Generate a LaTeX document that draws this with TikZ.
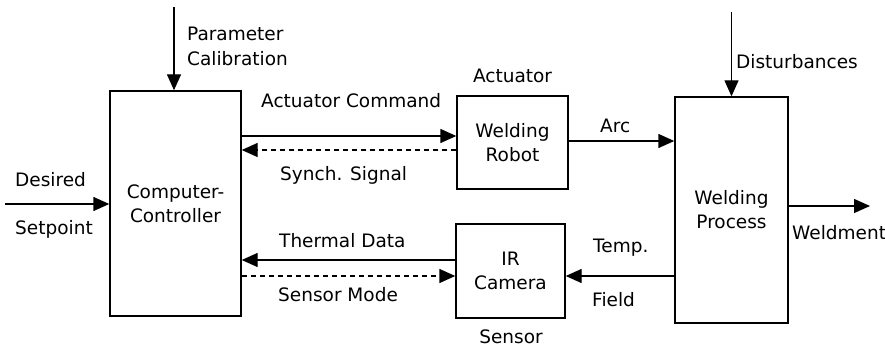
\documentclass[tikz,border=0pt]{standalone}
\usepackage{fontspec}
\setmainfont{DejaVu Sans}
\usetikzlibrary{arrows.meta,positioning,calc}

\tikzset{
  blk/.style={draw, line width=1.4pt, inner sep=0pt, align=center,
    font=\fontsize{18.5}{24}\selectfont},
  lbl/.style={inner sep=0pt, align=left, font=\fontsize{18.5}{25}\selectfont},
  sig/.style={line width=1.4pt, -{Triangle[length=16pt,width=14pt]}},
  back/.style={sig, dash pattern=on 5pt off 4pt},
}

\begin{document}
\begin{tikzpicture}[x=1pt,y=-1pt]
  \useasboundingbox (0,0) rectangle (885,347);

  % blocks
  \node[blk, minimum width=131pt, minimum height=225pt] (ctrl) at (175.5,203.5) {Computer-\\Controller};
  \node[blk, minimum width=111pt, minimum height=93pt] (rob) at (512.5,142.5) {Welding\\Robot};
  \node[blk, minimum width=109pt, minimum height=94pt] (cam) at (510.5,271) {IR\\Camera};
  \node[blk, minimum width=113pt, minimum height=226pt] (proc) at (731.5,210) {Welding\\Process};

  % signal levels
  \coordinate (pin) at (174,7);
  \coordinate (din) at (5,204);
  \coordinate (dist) at (731.5,12);
  \coordinate (wout) at (870,206);
  \coordinate (ycmd) at (0,136);
  \coordinate (ysyn) at (0,150);
  \coordinate (yarc) at (0,141);
  \coordinate (yth) at (0,260);
  \coordinate (ymode) at (0,276);

  % connectors
  \draw[sig] (pin) -- (pin |- ctrl.north);
  \draw[sig] (din) -- (din -| ctrl.west);
  \draw[sig] (ctrl.east |- ycmd) -- (rob.west |- ycmd);
  \draw[back] (rob.west |- ysyn) -- (ctrl.east |- ysyn);
  \draw[sig] (rob.east |- yarc) -- (proc.west |- yarc);
  \draw[sig] (cam.west |- yth) -- (ctrl.east |- yth);
  \draw[back] (ctrl.east |- ymode) -- (cam.west |- ymode);
  \draw[sig] (proc.west |- ymode) -- (cam.east |- ymode);
  \draw[sig] (dist) -- (proc.north);
  \draw[sig] (proc.east |- wout) -- (wout);

  % labels
  \node[lbl, anchor=west] (parcal) at (187,46.5) {Parameter\\Calibration};
  \node[lbl, anchor=west] (desd) at (15,180) {Desired};
  \node[lbl, anchor=west] (setp) at (15,229) {Setpoint};
  \node[lbl, above=12pt of rob] (actr) {Actuator};
  \node[lbl, anchor=south] (sens) at (511,344) {Sensor};
  \node[lbl, anchor=west] (acmd) at (261,101) {Actuator Command};
  \node[lbl, anchor=west] (synch) at (280,175) {Synch. Signal};
  \node[lbl, anchor=west] (thd) at (279,241) {Thermal Data};
  \node[lbl, anchor=west] (smode) at (278,295) {Sensor Mode};
  \node[lbl, anchor=west] (arc) at (600,126) {Arc};
  \node[lbl, anchor=west] (temp) at (593,248) {Temp.};
  \node[lbl, anchor=west] (fld) at (592,300) {Field};
  \node[lbl, anchor=west] (dstb) at (736,62) {Disturbances};
  \node[lbl, anchor=west] (wmt) at (792,233) {Weldment};
\end{tikzpicture}
\end{document}
